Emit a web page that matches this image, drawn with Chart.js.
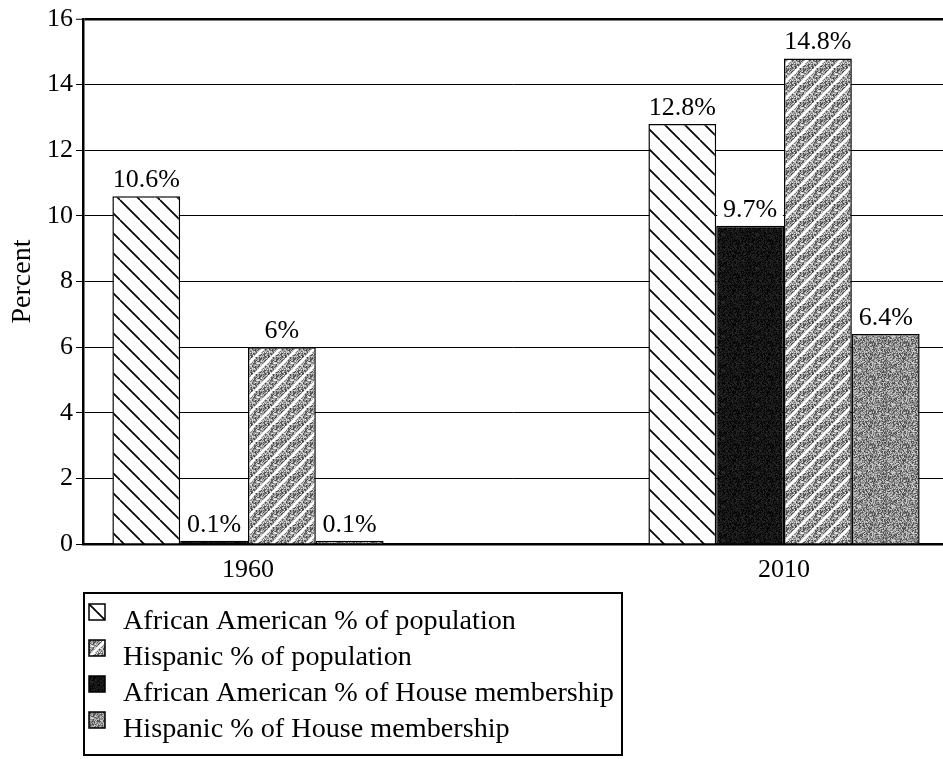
<!DOCTYPE html>
<html>
<head>
<meta charset="utf-8">
<script src="https://cdn.jsdelivr.net/npm/chart.js@4.4.1/dist/chart.umd.min.js"></script>
<style>
  html, body { margin: 0; padding: 0; background: #fff; }
  #wrap { width: 943px; height: 759px; }
</style>
</head>
<body>
<div id="wrap"><canvas id="grafico" width="943" height="759"></canvas></div>
<script>
// data
const categories = ["1960", "2010"];
const aaPopulation = [10.6, 12.8];
const aaHouse = [0.1, 9.7];
const hispPopulation = [6, 14.8];
const hispHouse = [0.1, 6.4];
const seriesNames = [
  "African American % of population",
  "African American % of House membership",
  "Hispanic % of population",
  "Hispanic % of House membership"
];
const legendOrder = [0, 2, 1, 3];

const FONT = '"Liberation Serif", "Times New Roman", serif';

// small tiles used as fill patterns
function tile(size, draw) {
  const c = document.createElement("canvas");
  c.width = size; c.height = size;
  draw(c.getContext("2d"), size);
  return c;
}
// fixed grain (a hash of the pixel position, no randomness)
function speckle(g, size, base, spread) {
  const img = g.createImageData(size, size);
  for (let y = 0; y < size; y++) {
    for (let x = 0; x < size; x++) {
      let h = (x * 374761393 + y * 668265263) | 0;
      h = Math.imul(h ^ (h >>> 13), 1274126177);
      h = (h ^ (h >>> 16)) >>> 0;
      const k = (h % 9) - 4;
      const v = Math.max(0, Math.min(255, base + k * spread));
      const p = (y * size + x) * 4;
      img.data[p] = v; img.data[p + 1] = v; img.data[p + 2] = v; img.data[p + 3] = 255;
    }
  }
  g.putImageData(img, 0, 0);
}
function stripes(g, s, color, width, back) {
  g.strokeStyle = color; g.lineWidth = width;
  g.beginPath();
  for (const o of [-s, 0, s]) {
    if (back) { g.moveTo(o, 0); g.lineTo(o + s, s); }
    else { g.moveTo(o, s); g.lineTo(o + s, 0); }
  }
  g.stroke();
}

const ctx0 = document.getElementById("grafico").getContext("2d");
const fillAaPop = ctx0.createPattern(tile(20, (g, s) => {
  g.fillStyle = "#fff"; g.fillRect(0, 0, s, s);
  stripes(g, s, "#000", 1.7, true);
}), "repeat");
const fillAaHouse = ctx0.createPattern(tile(34, (g, s) => speckle(g, s, 20, 5)), "repeat");
const fillHispPop = ctx0.createPattern(tile(17, (g, s) => {
  speckle(g, s, 150, 20);
  stripes(g, s, "#fff", 3, false);
}), "repeat");
const fillHispHouse = ctx0.createPattern(tile(34, (g, s) => speckle(g, s, 140, 17)), "repeat");
const fills = [fillAaPop, fillAaHouse, fillHispPop, fillHispHouse];

function points(arr) { return arr.map((v, i) => ({ x: i, y: v })); }

// value labels above the bars, with a white box behind them
const valueLabels = {
  id: "valueLabels",
  afterDatasetsDraw(chart) {
    const ctx = chart.ctx;
    ctx.save();
    ctx.font = "26px " + FONT;
    ctx.textAlign = "center";
    ctx.textBaseline = "alphabetic";
    chart.data.datasets.forEach((ds, i) => {
      chart.getDatasetMeta(i).data.forEach((bar, j) => {
        ctx.fillStyle = "#fff";
        ctx.fillRect(bar.x - bar.width / 2 + 1, bar.y - 29, bar.width - 2, 28);
        ctx.fillStyle = "#000";
        ctx.fillText(ds.data[j].y + "%", bar.x, bar.y - 9);
      });
    });
    ctx.restore();
  }
};

// boxed legend, one entry per row
const boxLegend = {
  id: "boxLegend",
  afterDraw(chart) {
    const ctx = chart.ctx;
    const area = chart.chartArea;
    const left = area.left + 1, top = area.bottom + 49;
    ctx.save();
    ctx.strokeStyle = "#000";
    ctx.lineWidth = 2;
    ctx.strokeRect(left, top, 538, 162);
    ctx.font = "28.2px " + FONT;
    ctx.textBaseline = "alphabetic";
    legendOrder.forEach((k, row) => {
      const base = top + 36 + row * 36;
      const sx = left + 5, sy = base - 25;
      ctx.save();
      ctx.translate(sx, sy);
      ctx.fillStyle = chart.data.datasets[k].backgroundColor;
      ctx.fillRect(0, 0, 16, 16);
      ctx.lineWidth = 1.5;
      ctx.strokeRect(0, 0, 16, 16);
      ctx.restore();
      ctx.fillStyle = "#000";
      ctx.fillText(chart.data.datasets[k].label, left + 39, base);
    });
    ctx.restore();
  }
};

new Chart(document.getElementById("grafico"), {
  type: "bar",
  data: {
    datasets: [aaPopulation, aaHouse, hispPopulation, hispHouse].map((arr, i) => ({
      label: seriesNames[i],
      data: points(arr),
      backgroundColor: fills[i],
      borderColor: "#000",
      borderWidth: 1.5,
      barPercentage: 1,
      categoryPercentage: 0.506
    }))
  },
  options: {
    responsive: false,
    animation: false,
    layout: { padding: { top: 19, right: 0, bottom: 175, left: 0 } },
    plugins: {
      legend: { display: false },
      tooltip: { enabled: false }
    },
    scales: {
      x: {
        type: "linear",
        offset: false,
        min: -0.3078,
        max: 1.2966,
        afterBuildTicks: s => { s.ticks = categories.map((c, i) => ({ value: i })); },
        afterFit: s => { s.height = 40; },
        ticks: {
          callback: v => categories[v],
          color: "#000",
          font: { family: FONT, size: 26 },
          padding: 3,
          maxRotation: 0,
          autoSkip: false
        },
        grid: { display: false, offset: false },
        border: { display: true, color: "#000", width: 2.5 }
      },
      y: {
        min: 0,
        max: 16,
        afterFit: s => { s.width = 83; },
        ticks: {
          stepSize: 2,
          color: "#000",
          font: { family: FONT, size: 26 },
          padding: 3
        },
        grid: {
          color: "#000",
          lineWidth: c => (c.tick && c.tick.value === 16 ? 2.5 : 1),
          tickLength: 7,
          tickWidth: 1,
          tickColor: "#000"
        },
        border: { display: true, color: "#000", width: 2.5 },
        title: {
          display: true,
          text: "Percent",
          color: "#000",
          font: { family: FONT, size: 28 },
          padding: { top: 6, bottom: 0 }
        }
      }
    }
  },
  plugins: [valueLabels, boxLegend]
});
</script>
</body>
</html>
